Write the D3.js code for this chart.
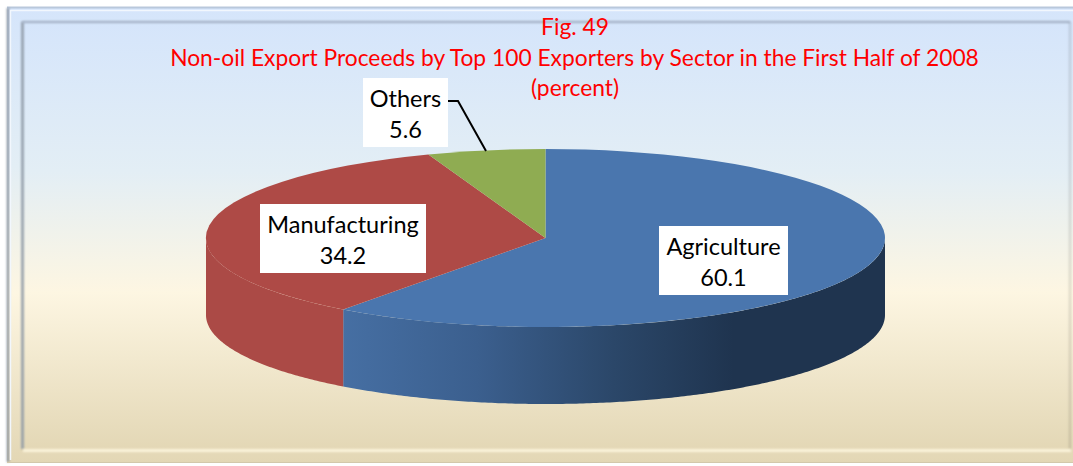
<!DOCTYPE html>
<html>
<head>
<meta charset="utf-8">
<script src="https://cdn.jsdelivr.net/npm/d3@7"></script>
<style>
    html, body { margin: 0; padding: 0; background: #fff; }
    svg { display: block; }
    text { font-family: Lato, "Open Sans", sans-serif; }
</style>
</head>
<body>
<script>
var sectors = ["Agriculture", "Manufacturing", "Others"];
var shares = [60.1, 34.2, 5.6];
var titleLines = ["Fig. 49", "Non-oil Export Proceeds by Top 100 Exporters by Sector in the First Half of 2008", "(percent)"];

var width = 1073;
var height = 466;
var cx = 545.5;
var cy = 238;
var rx = 339.5;
var ry = 89;
var depth = 77;
var colors = { "Agriculture": "#4a76ae", "Manufacturing": "#ae4a46", "Others": "#8fac52" };

var svg = d3.select("body").append("svg")
    .attr("width", width)
    .attr("height", height);

var defs = svg.append("defs");

// 枠の背景
var grad = defs.append("linearGradient")
    .attr("id", "bg")
    .attr("x1", 0).attr("y1", 0).attr("x2", 0).attr("y2", 1);
grad.append("stop").attr("offset", "0%").attr("stop-color", "#d5e5fb");
grad.append("stop").attr("offset", "35%").attr("stop-color", "#e3eef5");
grad.append("stop").attr("offset", "63%").attr("stop-color", "#fdf6e2");
grad.append("stop").attr("offset", "100%").attr("stop-color", "#e3d7b5");

var wallBlue = defs.append("linearGradient")
    .attr("id", "wallBlue")
    .attr("gradientUnits", "userSpaceOnUse")
    .attr("x1", 342).attr("y1", 0).attr("x2", 885).attr("y2", 0);
wallBlue.append("stop").attr("offset", "0%").attr("stop-color", "#466fa3");
wallBlue.append("stop").attr("offset", "25%").attr("stop-color", "#3b5f8e");
wallBlue.append("stop").attr("offset", "50%").attr("stop-color", "#2b4769");
wallBlue.append("stop").attr("offset", "72%").attr("stop-color", "#1f344f");
wallBlue.append("stop").attr("offset", "100%").attr("stop-color", "#1f344f");

// 直線は幅ゼロのbboxになるのでuserSpaceOnUseにする
var shade = defs.append("filter").attr("id", "blur1")
    .attr("filterUnits", "userSpaceOnUse")
    .attr("x", 0).attr("y", 0).attr("width", width).attr("height", height);
shade.append("feGaussianBlur").attr("stdDeviation", 0.8);

function edge(points, color, w, blurred) {
    var p = svg.append("path")
        .attr("d", d3.line()(points))
        .attr("fill", "none")
        .attr("stroke", color)
        .attr("stroke-width", w);
    if (blurred) p.attr("filter", "url(#blur1)");
    return p;
}

// 外枠
svg.append("rect")
    .attr("x", 7).attr("y", 7)
    .attr("width", width - 7).attr("height", 455)
    .attr("fill", "url(#bg)");
edge([[7, 7.5], [width, 7.5]], "#b9c8dc", 2, false);
edge([[8, 462], [8, 8]], "#8c96a3", 2.5, true);
edge([[10.5, 460], [10.5, 10.5], [width, 10.5]], "#f2f7fd", 1.5, false);
edge([[7, 462.5], [width, 462.5]], "#d3c8ab", 1, false);

// 内枠
svg.append("rect")
    .attr("x", 21).attr("y", 21)
    .attr("width", 1050).attr("height", 430)
    .attr("fill", "url(#bg)");
edge([[22.5, 449], [22.5, 22]], "#8d99a5", 2.5, true);
edge([[22, 22], [1070, 22]], "#9facbf", 2, true);
edge([[1070, 22], [1070, 449]], "#000", 2.5, true).attr("stroke-opacity", 0.12);
edge([[23, 450.5], [1071, 450.5]], "#fff9e2", 2.5, true);

// 円グラフの角度
var pie = d3.pie().sort(null).value(function(d, i) { return shares[i]; });
var arcs = pie(sectors);

var x = d3.scaleLinear().domain([-1, 1]).range([cx - rx, cx + rx]);
var y = d3.scaleLinear().domain([-1, 1]).range([cy - ry, cy + ry]);

// 側面
var wall = d3.area()
    .x(function(a) { return x(Math.sin(a)); })
    .y0(function(a) { return y(-Math.cos(a)); })
    .y1(function(a) { return y(-Math.cos(a)) + depth; });

arcs.forEach(function(d) {
    var from = Math.max(d.startAngle, Math.PI / 2);
    var to = Math.min(d.endAngle, 3 * Math.PI / 2);
    if (from >= to) return;
    svg.append("path")
        .datum(d3.range(from, to, 0.01).concat([to]))
        .attr("d", wall)
        .attr("fill", d.data === "Agriculture" ? "url(#wallBlue)" : "#ab4a46");
});

// 上面
var arc = d3.arc().innerRadius(0).outerRadius(1);
svg.append("g")
    .attr("transform", "translate(" + cx + "," + cy + ") scale(" + rx + "," + ry + ")")
    .selectAll("path")
    .data(arcs)
    .enter().append("path")
    .attr("d", arc)
    .attr("fill", function(d) { return colors[d.data]; });

// タイトル
svg.append("g").selectAll("text")
    .data(titleLines)
    .enter().append("text")
    .attr("x", function(d, i) { return i == 1 ? 574.5 : 575; })
    .attr("y", function(d, i) { return 35 + i * 30.5; })
    .attr("text-anchor", "middle")
    .attr("font-size", 22.8)
    .attr("fill", "#ff0000")
    .text(function(d) { return d; });

// 引き出し線
edge([[448, 101], [458, 101], [486, 151]], "#000", 2, false);

// ラベル
var labelBoxes = [
    { x: 659, y: 226, w: 129, h: 69 },
    { x: 260, y: 204, w: 166, h: 69 },
    { x: 363, y: 78, w: 85, h: 69 }
];
sectors.forEach(function(name, i) {
    var b = labelBoxes[i];
    var g = svg.append("g");
    g.append("rect")
        .attr("x", b.x).attr("y", b.y)
        .attr("width", b.w).attr("height", b.h)
        .attr("fill", "#fff");
    g.append("text")
        .attr("x", b.x + b.w / 2).attr("y", b.y + 29)
        .attr("text-anchor", "middle")
        .attr("font-size", 23.5)
        .attr("fill", "#000")
        .text(name);
    g.append("text")
        .attr("x", b.x + b.w / 2).attr("y", b.y + 60)
        .attr("text-anchor", "middle")
        .attr("font-size", 23.5)
        .attr("fill", "#000")
        .text(shares[i].toFixed(1));
});
</script>
</body>
</html>
